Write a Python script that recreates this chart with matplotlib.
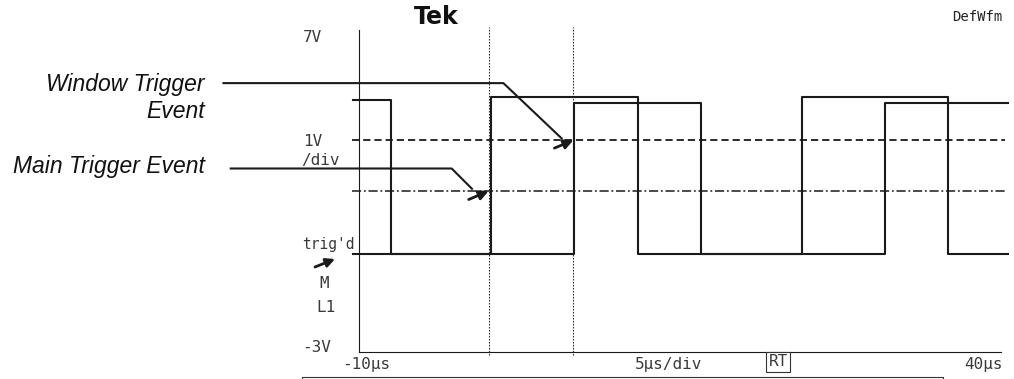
import matplotlib
matplotlib.use('Agg')
import matplotlib.pyplot as plt
from matplotlib.lines import Line2D
import numpy as np

W, H = 1014, 379

# screen limits (us, V)
t_min, t_max = -10, 40
v_min, v_max = -3, 7

# each trace: time where the level changes (us) and the level after it (V)
trace_a_t = [-10.47, -7.51, 0.28, 11.73, 24.5, 35.87, 40.55]
trace_a_v = [4.82, 0.03, 4.92, 0.03, 4.92, 0.03, 0.03]
trace_b_t = [-10.47, 6.74, 16.64, 30.97, 40.55]
trace_b_v = [0.03, 4.73, 0.03, 4.73, 4.73]

# trigger thresholds and trigger instants
window_level = 3.58
main_level = 2.0
main_trig_t = 0.1
window_trig_t = 6.7

ink = '#1a1a1a'
mono = 'DejaVu Sans Mono'

fig = plt.figure(figsize=(W / 100, H / 100), dpi=100)
fig.patch.set_facecolor('white')
ax = fig.add_axes([359 / W, (H - 352) / H, (1001 - 359) / W, (352 - 30) / H])
ax.set_xlim(t_min, t_max)
ax.set_ylim(v_min, v_max)
ax.set_xticks([])
ax.set_yticks([])
for s in ['top', 'right']:
    ax.spines[s].set_visible(False)
for s in ['left', 'bottom']:
    ax.spines[s].set_linewidth(0.8)
    ax.spines[s].set_color(ink)

# trigger levels
ax.axhline(window_level, xmin=-0.011, xmax=1.006, color=ink, lw=1.3,
           dashes=(4, 2.2), clip_on=False)
ax.axhline(main_level, xmin=-0.011, xmax=1.006, color=ink, lw=1.1,
           dashes=(6, 1.8, 1.2, 1.8), clip_on=False)

# trigger cursors
for t in [main_trig_t, window_trig_t]:
    ax.axvline(t, ymin=-0.01, ymax=1.01, color='#333333', lw=0.8,
               ls=(0, (1.5, 1.2)), clip_on=False)

# waveforms
ax.step(trace_a_t, trace_a_v, where='post', color=ink, lw=1.5, clip_on=False)
ax.step(trace_b_t, trace_b_v, where='post', color=ink, lw=1.5, clip_on=False)


def callout(tip, path_px, tail_px):
    # leader line given as pixel offsets (image orientation) from the tip
    x0, y0 = ax.transData.transform(tip)
    inv = ax.transData.inverted()
    pts = np.array([inv.transform((x0 + dx, y0 - dy)) for dx, dy in path_px])
    ax.plot(pts[:, 0], pts[:, 1], color=ink, lw=1.5, clip_on=False,
            solid_capstyle='butt')
    tail = inv.transform((x0 + tail_px[0], y0 - tail_px[1]))
    ax.annotate('', xy=tip, xytext=tail, annotation_clip=False,
                arrowprops=dict(arrowstyle='-|>', color=ink, lw=2.0,
                                mutation_scale=14, shrinkA=0, shrinkB=0))


callout((window_trig_t, window_level), [(-351, -57), (-70, -57), (-11, -1)], (-19, 8))
callout((main_trig_t, main_level), [(-259, -22.5), (-37, -22.5), (-16, -1.5)], (-20, 8.5))


def label(x, y, s, **kw):
    fig.text(x / W, 1 - y / H, s, **kw)


# callout labels
lab = dict(family='Liberation Sans', style='italic', fontsize=16.5,
           color='#111111', ha='right', va='center')
label(205, 85, 'Window Trigger', **lab)
label(205, 112, 'Event', **lab)
label(205, 167, 'Main Trigger Event', **lab)

# scope readouts
scr = dict(family=mono, fontsize=11.5, color='#3a3a3a', va='center')
label(303, 38, '7V', **scr)
label(303, 142, '1V', **scr)
label(301, 161, '/div', **scr)
label(302, 245, "trig'd", fontsize=10.5, **{k: v for k, v in scr.items() if k != 'fontsize'})
label(324, 283, 'M', ha='center', **scr)
label(326, 307, 'L1', ha='center', **scr)
label(302, 347, '-3V', **scr)
label(342, 365, '-10µs', **scr)
label(635, 365, '5µs/div', **scr)
label(1003, 365, '40µs', ha='right', **scr)
label(778, 362, 'RT', ha='center',
      bbox=dict(boxstyle='square,pad=0.15', fc='white', ec='#333333', lw=0.8), **scr)
label(436, 17, 'Tek', family='DejaVu Sans', fontweight='bold', fontsize=17,
      color='#111111', ha='center', va='center')
label(1002, 17, 'DefWfm', family=mono, fontsize=10,
      color='#222222', ha='right', va='center')

# trig'd marker arrow
ax.annotate('', xy=(335 / W, 1 - 259 / H), xytext=(315 / W, 1 - 267 / H),
            xycoords='figure fraction', textcoords='figure fraction',
            arrowprops=dict(arrowstyle='-|>', color=ink, lw=2.0,
                            mutation_scale=13, shrinkA=0, shrinkB=0))

# status bar frame at the bottom
fig.add_artist(Line2D([302 / W, 302 / W, 943 / W, 943 / W],
                      [-0.02, 1 - 377 / H, 1 - 377 / H, -0.02],
                      transform=fig.transFigure, color='#333333', lw=0.8))

fig.savefig('out.png', dpi=100, facecolor='white')
